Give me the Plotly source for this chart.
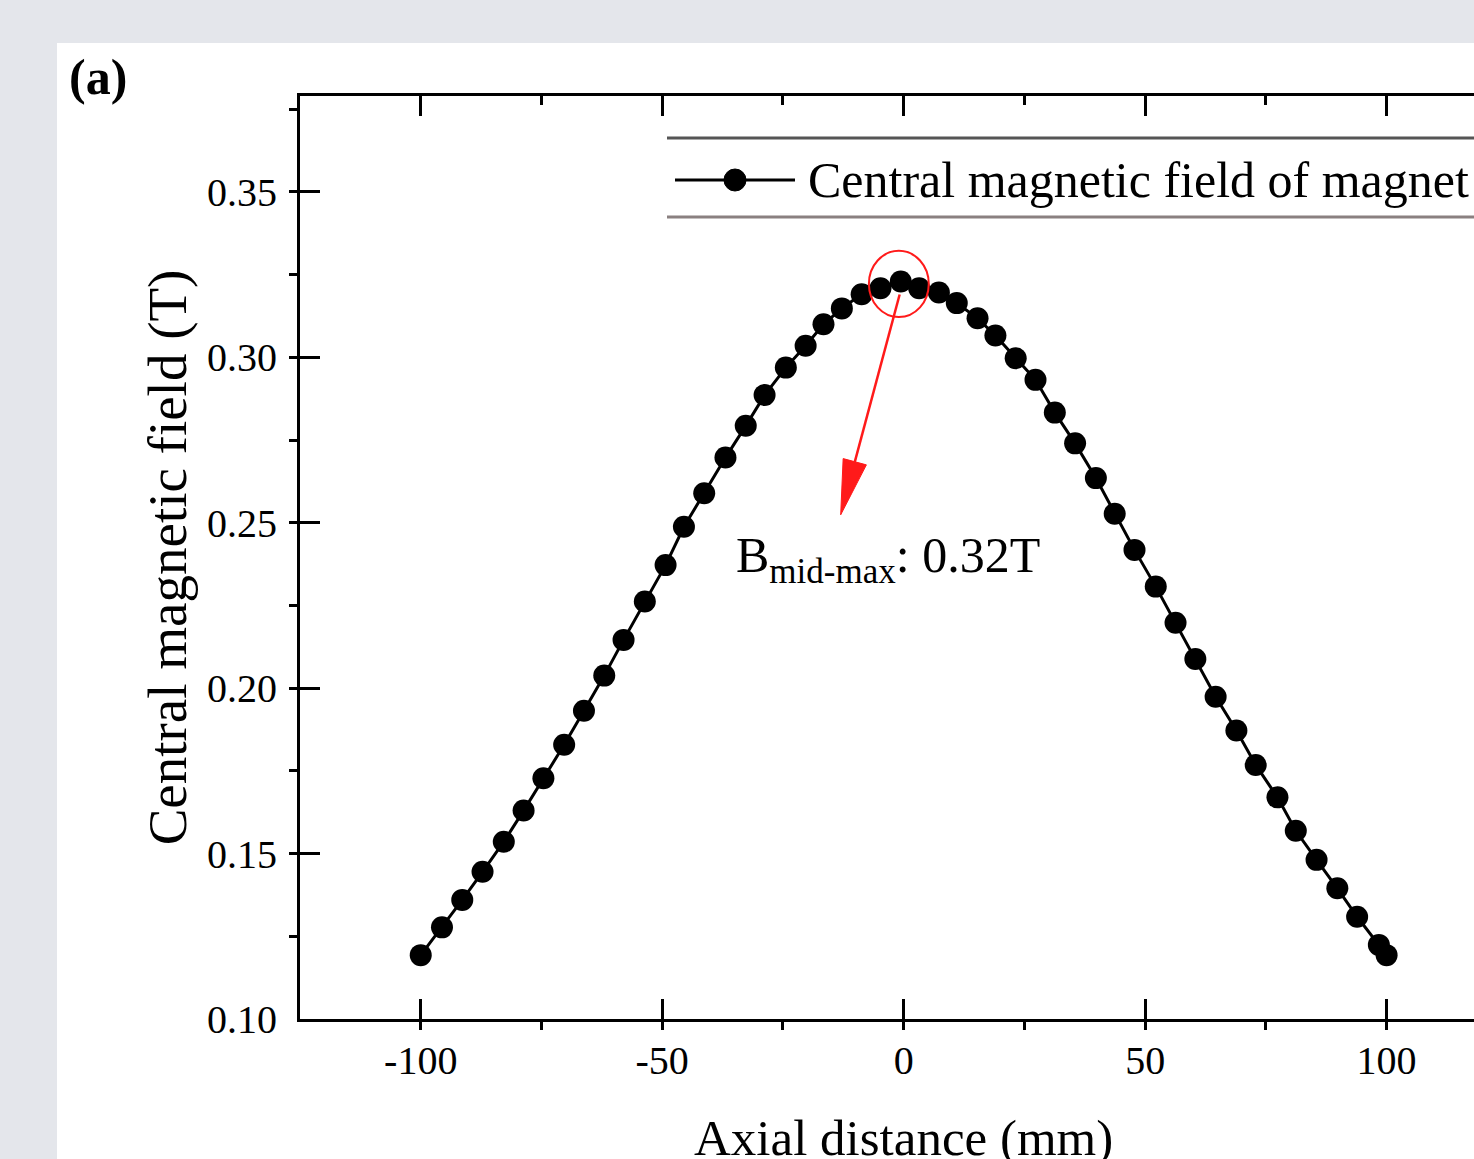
import plotly.graph_objects as go

# ---- data ----
axial_mm = [-100, -95.6, -91.4, -87.2, -82.8, -78.7, -74.6, -70.3, -66.2, -62.0,
            -58.0, -53.6, -49.3, -45.5, -41.3, -36.9, -32.7, -28.8, -24.4, -20.3,
            -16.6, -12.8, -8.7, -4.8, -0.6,
            3.2, 7.3, 11.0, 15.3, 19.0, 23.2, 27.3, 31.3, 35.5, 39.8,
            43.7, 47.8, 52.2, 56.3, 60.4, 64.6, 68.9, 72.9, 77.4, 81.2,
            85.5, 89.8, 93.9, 98.4, 100]
field_T = [0.1193, 0.1277, 0.1360, 0.1445, 0.1536, 0.1630, 0.1728, 0.1829, 0.1932, 0.2038,
           0.2146, 0.2262, 0.2372, 0.2488, 0.2589, 0.2697, 0.2793, 0.2886, 0.2969, 0.3035,
           0.3100, 0.3148, 0.3191, 0.3209, 0.3229,
           0.3209, 0.3196, 0.3164, 0.3118, 0.3066, 0.2997, 0.2932, 0.2833, 0.2740, 0.2635,
           0.2527, 0.2418, 0.2307, 0.2198, 0.2088, 0.1974, 0.1872, 0.1768, 0.1670, 0.1569,
           0.1481, 0.1395, 0.1309, 0.1224, 0.1193]

x_ticks = [-100, -50, 0, 50, 100]
y_ticks = [0.10, 0.15, 0.20, 0.25, 0.30, 0.35]
series_name = "Central magnetic field of magnet"
x_title = "Axial distance (mm)"
y_title = "Central magnetic field (T)"
panel_label = "(a)"
peak_label = "B<sub>mid-max</sub>: 0.32T"

FONT = "Liberation Serif, Times New Roman, serif"
W, H = 1474, 1159
L, T, B = 300, 96, 140
PW = W - L
PH = H - T - B
X_RANGE = [-125, 118.1]


def px_to_paper(px, py):
    return (px - L) / PW, (H - B - py) / PH


fig = go.Figure()
fig.add_trace(go.Scatter(
    x=axial_mm, y=field_T, mode="lines+markers", name=series_name,
    line=dict(color="black", width=3),
    marker=dict(color="black", size=22),
    showlegend=False,
))
# transparent copy on the top axis so that the top frame axis gets drawn
fig.add_trace(go.Scatter(
    x=axial_mm, y=field_T, mode="markers", xaxis="x2", yaxis="y",
    marker=dict(color="rgba(0,0,0,0)", size=1), hoverinfo="skip", showlegend=False,
))

shapes = []
# white panel on grey page
x0, y0 = px_to_paper(57, 1200)
x1, y1 = px_to_paper(1500, 43)
shapes.append(dict(type="rect", xref="paper", yref="paper", x0=x0, x1=x1, y0=y0, y1=y1,
                   fillcolor="white", line=dict(width=0), layer="below"))

# legend frame lines (top / bottom)
lx0, ly_top = px_to_paper(667, 138)
lx1, ly_bot = px_to_paper(1500, 217)
shapes.append(dict(type="line", xref="paper", yref="paper", x0=lx0, x1=lx1, y0=ly_top, y1=ly_top,
                   line=dict(color="#555555", width=3)))
shapes.append(dict(type="line", xref="paper", yref="paper", x0=lx0, x1=lx1, y0=ly_bot, y1=ly_bot,
                   line=dict(color="#8a8080", width=3)))
# legend sample line + marker
sx0, sy = px_to_paper(675, 180)
sx1, _ = px_to_paper(795, 180)
shapes.append(dict(type="line", xref="paper", yref="paper", x0=sx0, x1=sx1, y0=sy, y1=sy,
                   line=dict(color="black", width=3)))
mx0, my0 = px_to_paper(724, 191)
mx1, my1 = px_to_paper(746, 169)
shapes.append(dict(type="circle", xref="paper", yref="paper", x0=mx0, x1=mx1, y0=my0, y1=my1,
                   fillcolor="black", line=dict(color="black", width=1)))

# red circle around the peak and arrow
shapes.append(dict(type="circle", xref="x", yref="y", x0=-7.2, x1=5.2, y0=0.3122, y1=0.3322,
                   line=dict(color="#ff1a1a", width=2)))
shapes.append(dict(type="line", xref="x", yref="y", x0=-0.83, y0=0.3190, x1=-10.12, y1=0.2684,
                   line=dict(color="#ff1a1a", width=2.5)))
shapes.append(dict(type="path", xref="x", yref="y",
                   path="M -13.04,0.2524 L -7.72,0.2675 L -12.53,0.2694 Z",
                   fillcolor="#ff1a1a", line=dict(color="#ff1a1a", width=1)))

annotations = []
ax_, ay_ = px_to_paper(98, 77)
annotations.append(dict(text="<b>" + panel_label + "</b>", xref="paper", yref="paper",
                        x=ax_, y=ay_, xanchor="center", yanchor="middle", showarrow=False,
                        font=dict(family=FONT, size=50, color="black")))
tx, ty = px_to_paper(806, 180)
annotations.append(dict(text=series_name, xref="paper", yref="paper", x=tx, y=ty,
                        xanchor="left", yanchor="middle", showarrow=False,
                        font=dict(family=FONT, size=50, color="black")))
annotations.append(dict(text=peak_label, xref="x", yref="y", x=-35.2, y=0.2389,
                        xanchor="left", yanchor="middle", showarrow=False,
                        font=dict(family=FONT, size=50, color="black")))
# x-axis title, centred on x = 0 as in the reference
_, xt_y = px_to_paper(0, 1108)
annotations.append(dict(text=x_title, xref="x", yref="paper", x=0, y=xt_y,
                        xanchor="center", yanchor="top", showarrow=False,
                        font=dict(family=FONT, size=51, color="black")))

axis_common = dict(
    showline=True, linecolor="black", linewidth=3,
    ticks="inside", ticklen=20, tickwidth=3, tickcolor="black",
    showgrid=False, zeroline=False, automargin=False,
    tickfont=dict(family=FONT, size=40, color="black"),
)

fig.update_layout(
    width=W, height=H,
    margin=dict(l=L, r=0, t=T, b=B, pad=0),
    paper_bgcolor="#e4e6eb", plot_bgcolor="white",
    showlegend=False, hovermode=False,
    shapes=shapes, annotations=annotations,
    xaxis=dict(range=X_RANGE, tickvals=x_ticks, ticktext=[str(v) for v in x_ticks],
               mirror=False, ticklabelstandoff=4,
               minor=dict(ticks="outside", ticklen=8, tickwidth=3, tickcolor="black",
                          dtick=25, tick0=0),
               **axis_common),
    xaxis2=dict(overlaying="x", side="top", anchor="y",
                range=X_RANGE, tickvals=x_ticks, showticklabels=False,
                minor=dict(ticks="inside", ticklen=9, tickwidth=3, tickcolor="black",
                           dtick=25, tick0=0),
                **axis_common),
    yaxis=dict(range=[0.10, 0.379], tickvals=y_ticks, tickformat=".2f",
               mirror=False, ticklabelstandoff=12,
               minor=dict(ticks="outside", ticklen=8, tickwidth=3, tickcolor="black",
                          dtick=0.025, tick0=0.1),
               title=dict(text=y_title, font=dict(family=FONT, size=55, color="black"),
                          standoff=3),
               **axis_common),
)

fig.write_html("out.html")
